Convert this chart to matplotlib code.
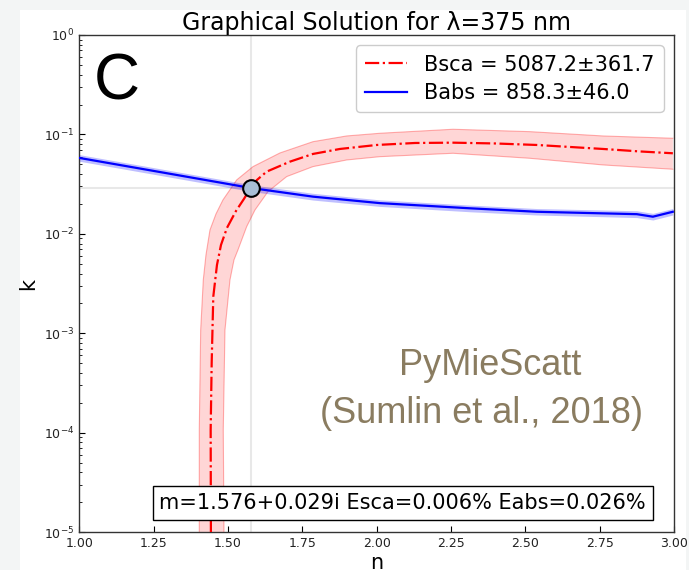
import matplotlib
matplotlib.use("Agg")
import matplotlib.pyplot as plt
from matplotlib.patches import Rectangle

# Scattering contour (centre line and edges of the uncertainty band)
bsca_n = [1.4426, 1.4418, 1.4452, 1.4506, 1.4630, 1.4765, 1.4966, 1.5269, 1.5538,
          1.5760, 1.5975, 1.6301, 1.7085, 1.7858, 1.8766, 2.0000, 2.1290, 2.2568,
          2.3978, 2.5390, 2.6490, 2.7609, 2.8850, 2.9963]
bsca_k = [1.00e-5, 1.07e-4, 5.05e-4, 2.34e-3, 4.88e-3, 7.75e-3, 1.15e-2, 1.70e-2, 2.25e-2,
          0.0290, 0.0349, 0.0423, 0.0533, 0.0637, 0.0715, 0.0784, 0.0821, 0.0827,
          0.0812, 0.0784, 0.0749, 0.0715, 0.0675, 0.0647]

bsca_hi_n = [1.4035, 1.4035, 1.4082, 1.4170, 1.4260, 1.4395, 1.4597, 1.4832, 1.5293,
             1.5841, 1.6749, 1.7858, 1.8991, 2.0111, 2.2568, 2.5157, 2.7609, 2.9963]
bsca_hi_k = [1.00e-5, 1.07e-4, 1.08e-3, 3.45e-3, 6.15e-3, 1.097e-2, 1.59e-2, 2.20e-2, 3.49e-2,
             0.0475, 0.0652, 0.0846, 0.0966, 0.1028, 0.1128, 0.1067, 0.0966, 0.0916]

bsca_lo_n = [1.4866, 1.4842, 1.4899, 1.5067, 1.5202, 1.5336, 1.5629, 1.5908, 1.6345,
             1.6974, 1.7858, 1.8991, 2.0111, 2.2568, 2.5157, 2.7609, 2.9963]
bsca_lo_k = [1.00e-5, 1.07e-4, 1.08e-3, 3.45e-3, 5.48e-3, 6.91e-3, 1.184e-2, 1.74e-2, 2.66e-2,
             0.0377, 0.0475, 0.0554, 0.0598, 0.0647, 0.0576, 0.0494, 0.0447]

# Absorption contour with its band
babs_n = [1.0, 1.25, 1.5, 1.576, 1.786, 2.011, 2.314, 2.539, 2.761, 2.875, 2.929, 2.996]
babs_k = [0.0581, 0.0430, 0.0318, 0.0290, 0.0237, 0.0204, 0.0181, 0.0167, 0.0161, 0.0158, 0.0149, 0.0167]
babs_lo = [0.0538, 0.0398, 0.0294, 0.0268, 0.0219, 0.0189, 0.0167, 0.0155, 0.0149, 0.0146, 0.0138, 0.0155]
babs_hi = [0.0627, 0.0464, 0.0343, 0.0313, 0.0256, 0.0220, 0.0195, 0.0180, 0.0174, 0.0171, 0.0161, 0.0180]

sol_n = 1.576
sol_k = 0.029
bsca_label = "Bsca = 5087.2±361.7"
babs_label = "Babs = 858.3±46.0"
info_text = "m=1.576+0.029i Esca=0.006% Eabs=0.026%"
title_text = "Graphical Solution for λ=375 nm"
x_ticks = [1.00, 1.25, 1.50, 1.75, 2.00, 2.25, 2.50, 2.75, 3.00]

fig = plt.figure(figsize=(6.89, 5.70), dpi=100, facecolor="#f3f5f5")
fig.patches.append(Rectangle((20 / 689, 0), 666 / 689, 560 / 570, transform=fig.transFigure,
                             facecolor="white", edgecolor="none", zorder=-10))
ax = fig.add_axes([0.1151, 0.0661, 0.8631, 0.8725])
ax.set_facecolor("white")

# crosshair at the solution
ax.axvline(sol_n, color="#e8e8e8", lw=1.5, zorder=1)
ax.axhline(sol_k, color="#e8e8e8", lw=1.5, zorder=1)

# scattering band
poly_n = bsca_hi_n + bsca_lo_n[::-1]
poly_k = bsca_hi_k + bsca_lo_k[::-1]
ax.fill(poly_n, poly_k, facecolor="red", alpha=0.16, edgecolor="none", zorder=2)
ax.plot(bsca_hi_n, bsca_hi_k, color="red", alpha=0.3, lw=0.8, zorder=2)
ax.plot(bsca_lo_n, bsca_lo_k, color="red", alpha=0.3, lw=0.8, zorder=2)
ax.plot(bsca_n, bsca_k, color="red", ls="-.", lw=1.6, label=bsca_label, zorder=3)

# absorption band
ax.fill_between(babs_n, babs_lo, babs_hi, color="blue", alpha=0.25, lw=0, zorder=2)
ax.plot(babs_n, babs_k, color="blue", lw=1.6, label=babs_label, zorder=3)

ax.plot([sol_n], [sol_k], marker="o", ms=12, mfc="#a9bfd6", mec="black", mew=1.5,
        ls="none", zorder=4)

ax.set_yscale("log")
ax.set_xlim(1.0, 3.0)
ax.set_ylim(1e-5, 1)
ax.set_xticks(x_ticks)
ax.set_xticklabels([f"{t:.2f}" for t in x_ticks])
ax.tick_params(axis="both", which="both", direction="in", top=False, right=False,
               labelsize=9, labelcolor="#222222")
ax.tick_params(axis="both", which="major", length=4)
ax.tick_params(axis="y", which="minor", length=2.5)
for sp in ax.spines.values():
    sp.set_color("#333333")
    sp.set_linewidth(1.0)

ax.set_xlabel("n", fontsize=15, labelpad=2)
ax.set_ylabel("k", fontsize=15, labelpad=4)
ax.set_title(title_text, fontsize=17, pad=2)

leg = ax.legend(loc="upper right", fontsize=15, labelspacing=0.4, handlelength=2.0,
                fancybox=True, framealpha=1.0, borderpad=0.45)
leg.get_frame().set_edgecolor("#cccccc")

ax.text(0.025, 0.871, "C", transform=ax.transAxes, fontsize=46,
        family="Liberation Sans", ha="left", va="baseline")
ax.text(0.6906, 0.3163, "PyMieScatt", transform=ax.transAxes, fontsize=26,
        family="Liberation Sans", color="#8a7c60", ha="center", va="baseline")
ax.text(0.6755, 0.2198, "(Sumlin et al., 2018)", transform=ax.transAxes, fontsize=26,
        family="Liberation Sans", color="#8a7c60", ha="center", va="baseline")
ax.text(0.544, 0.059, info_text, transform=ax.transAxes, fontsize=15,
        ha="center", va="center", zorder=5,
        bbox=dict(boxstyle="square,pad=0.32", facecolor="white", edgecolor="black", lw=1.0))

fig.savefig("out.png", dpi=100, facecolor=fig.get_facecolor())
